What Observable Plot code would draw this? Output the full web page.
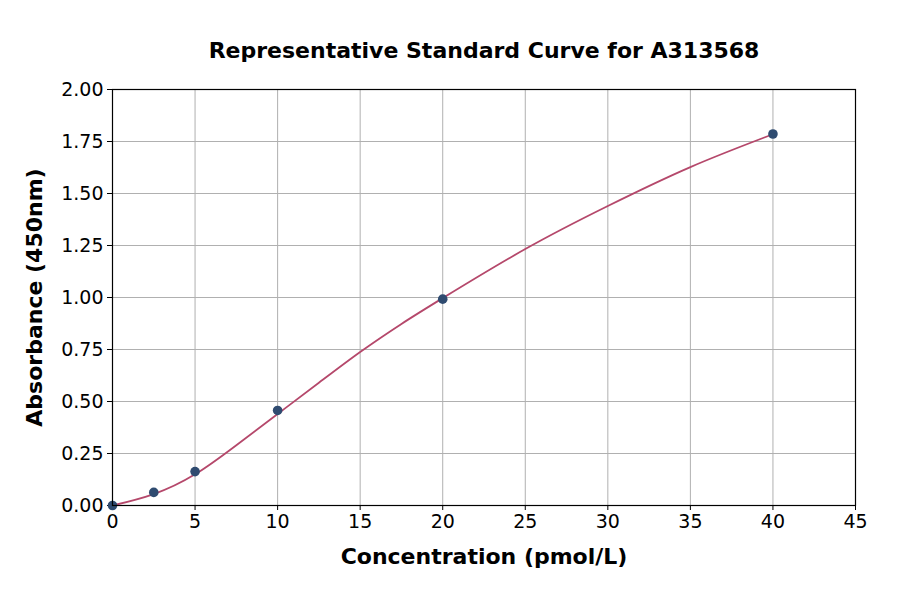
<!DOCTYPE html>
<html>
<head>
<meta charset="utf-8">
<script src="https://cdn.jsdelivr.net/npm/d3@7"></script>
<script src="https://cdn.jsdelivr.net/npm/@observablehq/plot@0.6"></script>
<style>
  html, body { margin: 0; padding: 0; background: #fff; }
  #chart svg { display: block; }
</style>
</head>
<body>
<div id="chart"></div>
<script>
// Standard points
const concentration = [0, 2.5, 5, 10, 20, 40];
const absorbance = [0.0, 0.063, 0.163, 0.457, 0.992, 1.786];

// Fitted curve
const curveX = [0, 2.5, 5, 7.5, 10, 12.5, 15, 17.5, 20, 25, 30, 35, 40];
const curveY = [0.0, 0.055, 0.150, 0.290, 0.440, 0.590, 0.738, 0.873, 0.997, 1.233, 1.440, 1.627, 1.785];

const xTicks = [0, 5, 10, 15, 20, 25, 30, 35, 40, 45];
const yTicks = [0, 0.25, 0.5, 0.75, 1.0, 1.25, 1.5, 1.75, 2.0];

const titleText = "Representative Standard Curve for A313568";
const xLabel = "Concentration (pmol/L)";
const yLabel = "Absorbance (450nm)";

const points = concentration.map((c, i) => ({x: c, y: absorbance[i]}));
const curve = curveX.map((c, i) => ({x: c, y: curveY[i]}));

const chart = Plot.plot({
  width: 900,
  height: 594,
  marginLeft: 112,
  marginRight: 45,
  marginTop: 89,
  marginBottom: 89,
  style: {fontFamily: "DejaVu Sans", color: "black", background: "white"},
  x: {domain: [0, 45]},
  y: {domain: [0, 2]},
  marks: [
    Plot.gridX(xTicks, {stroke: "#b0b0b0", strokeOpacity: 1, strokeWidth: 1}),
    Plot.gridY(yTicks, {stroke: "#b0b0b0", strokeOpacity: 1, strokeWidth: 1}),
    Plot.axisX(xTicks, {tickSize: 5, tickPadding: 4, fontSize: 19, label: null}),
    Plot.axisY(yTicks, {tickSize: 5, tickPadding: 4, fontSize: 19, label: null, tickFormat: d3.format(".2f")}),
    Plot.line(curve, {x: "x", y: "y", curve: "natural", stroke: "#b5486b", strokeWidth: 1.8}),
    Plot.dot(points, {x: "x", y: "y", r: 4.8, fill: "#2f4b70", stroke: "none"}),
    Plot.frame({stroke: "black", strokeWidth: 1.2}),
    Plot.text([titleText], {frameAnchor: "top", dy: -39, lineAnchor: "middle", textAnchor: "middle", fontSize: 22, fontWeight: "bold", fill: "black"}),
    Plot.text([xLabel], {frameAnchor: "bottom", dy: 51, lineAnchor: "middle", textAnchor: "middle", fontSize: 22, fontWeight: "bold", fill: "black"}),
    Plot.text([yLabel], {frameAnchor: "left", dx: -78, rotate: -90, lineAnchor: "middle", textAnchor: "middle", fontSize: 22, fontWeight: "bold", fill: "black"})
  ]
});
document.getElementById("chart").appendChild(chart);
</script>
</body>
</html>
